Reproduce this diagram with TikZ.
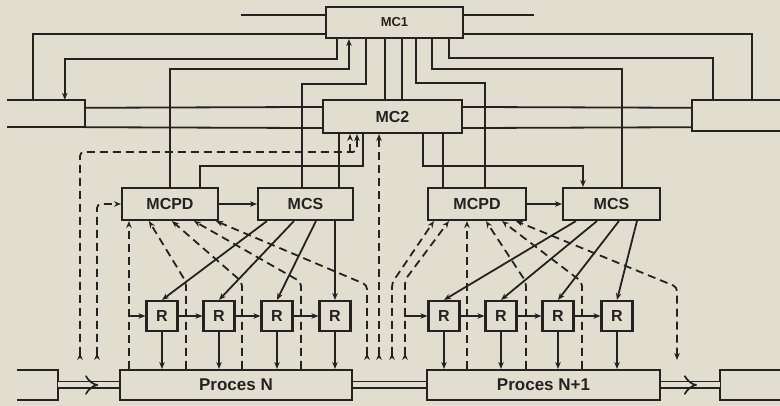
\documentclass[tikz,border=0pt]{standalone}
\usepackage{fontspec}
\setmainfont{Liberation Sans}
\usetikzlibrary{arrows.meta, positioning}

\definecolor{paper}{RGB}{226,222,207}
\definecolor{ink}{RGB}{34,34,34}

\begin{document}
\begin{tikzpicture}[
    x=1pt, y=-1pt,
    every node/.style={align=center, text=ink},
    blok/.style={draw=ink, line width=2.1pt, fill=paper, inner sep=0pt, font=\fontsize{16}{16}\selectfont\bfseries},
    reg/.style={blok, minimum width=31pt, minimum height=30pt, font=\fontsize{16}{16}\selectfont\bfseries},
    proc/.style={blok, minimum width=232pt, minimum height=30pt, font=\fontsize{17}{17}\selectfont\bfseries},
    endbox/.style={inner sep=0pt},
    wire/.style={draw=ink, line width=1.8pt},
    meas/.style={wire, dash pattern=on 8pt off 5pt, rounded corners=4pt},
    flow/.style={draw=ink, line width=1.7pt, double=paper, double distance=5pt},
    fromflow/.style={arrows={Stealth[length=7pt, width=5.5pt, reversed]-Stealth[length=7pt, width=5.5pt]}},
    >={Stealth[length=7pt, width=5.5pt]}
]

    % Paper and frame
    \fill[paper] (0,0) rectangle (780,406);
    \useasboundingbox (0,0) rectangle (780,406);

    % Upper level
    \node[blok, minimum width=137pt, minimum height=31pt, font=\fontsize{13}{13}\selectfont\bfseries] (mc1) at (394.5,22.5) {MC1};
    \node[blok, minimum width=139pt, minimum height=33pt] (mc2) at (392.5,116.5) {MC2};
    \node[endbox, minimum width=78pt, minimum height=27pt] (lbox) at (46,113.5) {};
    \node[endbox, minimum width=88pt, minimum height=31pt] (rbox) at (736,115.5) {};

    % Middle level
    \node[blok, minimum width=96pt, minimum height=32pt] (mcpd1) at (170,204) {MCPD};
    \node[blok, minimum width=95pt, minimum height=32pt] (mcs1) at (305.5,204) {MCS};
    \node[blok, minimum width=98pt, minimum height=32pt] (mcpd2) at (477,204) {MCPD};
    \node[blok, minimum width=97pt, minimum height=32pt] (mcs2) at (611.5,204) {MCS};

    % Regulators
    \foreach \k/\x in {1/162, 2/219, 3/277, 4/335, 5/444, 6/501, 7/558, 8/617}
        \node[reg] (r\k) at (\x,316) {R};

    % Processes
    \node[proc] (pn) at (236,385) {Proces N};
    \node[proc, minimum width=233pt] (pn1) at (543.5,385) {Proces N+1};
    \node[endbox, minimum width=41pt, minimum height=30pt] (src) at (37.5,385) {};
    \node[endbox, minimum width=60pt, minimum height=30pt] (snk) at (750,385) {};

    % Open boxes at the edges
    \draw[wire] (lbox.north west) -- (lbox.north east) -- (lbox.south east) -- (lbox.south west);
    \draw[wire] (rbox.north east) -- (rbox.north west) -- (rbox.south west) -- (rbox.south east);
    \draw[wire] (src.north west) -- (src.north east) -- (src.south east) -- (src.south west);
    \draw[wire] (snk.north east) -- (snk.north west) -- (snk.south west) -- (snk.south east);

    % Material flow
    \draw[flow] (src.east) -- (pn.west);
    \draw[flow, -Implies] (src.east) -- ++(40,0);
    \draw[flow] (pn.east) -- (pn1.west);
    \draw[flow] (pn1.east) -- (snk.west);
    \draw[flow, -Implies] (pn1.east) -- ++(36,0);

    % Bus through MC2
    \draw[wire] ([yshift=-8pt]lbox.north east) -- ([yshift=-8pt]mc2.north west);
    \draw[wire] (lbox.south east) -- ([yshift=6pt]mc2.south west);
    \draw[wire] ([yshift=-8pt]mc2.north east) -- ([yshift=-8pt]rbox.north west);
    \draw[wire] ([yshift=6pt]mc2.south east) -- ([yshift=4pt]rbox.south west);

    % MC1 links
    \draw[wire] ([yshift=-9pt]mc1.north west) -- ++(-84,0);
    \draw[wire] ([yshift=-9pt]mc1.north east) -- ++(70,0);
    \draw[wire] ([yshift=5pt]mc1.south west) -| ([xshift=26pt]lbox.north west);
    \draw[wire, ->] ([xshift=12pt]mc1.south west) -- ++(0,20) -| ([xshift=58pt]lbox.north west);
    \draw[wire, ->] (mcpd1.north) -- ++(0,-118) -| ([xshift=24pt]mc1.south west);
    \draw[wire] ([xshift=41pt]mc1.south west) -- ++(0,45) -| ([xshift=-3.5pt]mcs1.north);
    \draw[wire] ([xshift=-9.5pt]mc1.south) -- ++(0,62);
    \draw[wire] ([xshift=7.5pt]mc1.south) -- ++(0,62);
    \draw[wire] ([xshift=91pt]mc1.south west) -- ++(0,44) -| ([xshift=8pt]mcpd2.north);
    \draw[wire] ([xshift=107pt]mc1.south west) -- ++(0,30) -| ([xshift=10.5pt]mcs2.north);
    \draw[wire] ([xshift=124pt]mc1.south west) -- ++(0,19) -| ([xshift=21pt]rbox.north west);
    \draw[wire] ([yshift=5pt]mc1.south east) -| ([xshift=60pt]rbox.north west);

    % MC2 links
    \draw[wire] ([xshift=-53.5pt]mc2.south) -- ++(0,55);
    \draw[wire] ([xshift=-29.5pt]mc2.south) -- ++(0,32) -| ([xshift=30pt]mcpd1.north);
    \draw[wire] ([xshift=50.5pt]mc2.south) -- ++(0,55);
    \draw[wire, ->] ([xshift=30.5pt]mc2.south) -- ++(0,32) -| ([xshift=-28.5pt]mcs2.north);

    \draw[wire, ->] (mcpd1.east) -- (mcs1.west);
    \draw[wire, ->] (mcpd2.east) -- (mcs2.west);

    % Measurement taps
    \coordinate (in1) at (80,360);
    \coordinate (in2) at (97,360);
    \coordinate (fork) at (350,152);
    \coordinate (mid1) at (367,360);
    \coordinate (mid2) at (379,360);
    \coordinate (mid3) at (392,360);
    \coordinate (mid4) at (405,360);
    \coordinate (out1) at (677,360);

    \draw[meas, fromflow] (in1) -- ++(0,-208) -| ([xshift=-35.5pt]mc2.south);
    \draw[meas, ->] (fork) -- ([xshift=-42.5pt]mc2.south);
    \draw[meas, fromflow] (in2) |- (mcpd1.west);
    \draw[meas, fromflow] (mid2) -- (mid2 |- mc2.south);

    % Measurements to MCPD (left)
    \draw[meas, ->] ([xshift=10pt]pn.north west) -- ([xshift=8pt]mcpd1.south west);
    \foreach \a/\b in {67/28, 123/51, 182/73}
        \draw[meas, ->] ([xshift=\a pt]pn.north west) -- ++(0,-87) -- ([xshift=\b pt]mcpd1.south west);
    \draw[meas, fromflow] (mid1) -- ++(0,-75) -- ([xshift=95pt]mcpd1.south west);

    % Measurements to MCPD (right)
    \draw[meas, fromflow] (mid3) -- ++(0,-77) -- ([xshift=7pt]mcpd2.south west);
    \draw[meas, fromflow] (mid4) -- ++(0,-80) -- ([xshift=22pt]mcpd2.south west);
    \draw[meas, ->] ([xshift=41pt]pn1.north west) -- ([xshift=40pt]mcpd2.south west);
    \foreach \a/\b in {100/59, 156/75}
        \draw[meas, ->] ([xshift=\a pt]pn1.north west) -- ++(0,-87) -- ([xshift=\b pt]mcpd2.south west);
    \draw[meas, <->] (out1) -- ++(0,-73) -- ([xshift=89pt]mcpd2.south west);

    % Regulator inputs
    \draw[wire, <-] (r1.west) -- ++(-16,0);
    \draw[wire, <-] (r5.west) -- ++(-23.5,0);
    \foreach \a/\b in {1/2, 2/3, 3/4, 5/6, 6/7, 7/8}
        \draw[wire, ->] (r\a.east) -- (r\b.west);

    % Set points from MCS
    \foreach \dx/\k in {10/1, 37/2, 59/3}
        \draw[wire, ->] ([xshift=\dx pt]mcs1.south west) -- (r\k.north);
    \draw[wire, ->] (r4.north |- mcs1.south) -- (r4.north);
    \foreach \dx/\k in {14/5, 35/6, 57/7, 75/8}
        \draw[wire, ->] ([xshift=\dx pt]mcs2.south west) -- (r\k.north);

    % Regulator outputs
    \foreach \k in {1,...,4}
        \draw[wire, ->] (r\k.south) -- (r\k.south |- pn.north);
    \foreach \k in {5,...,8}
        \draw[wire, ->] (r\k.south) -- (r\k.south |- pn1.north);

\end{tikzpicture}
\end{document}
